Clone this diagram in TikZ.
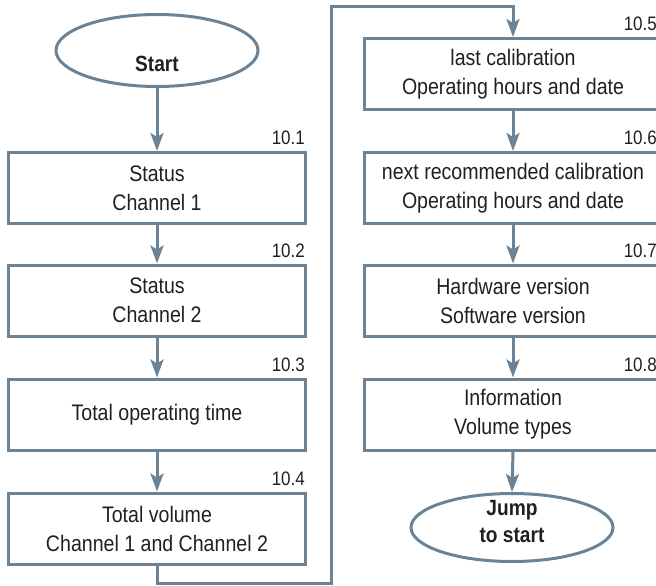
\documentclass[tikz,border=0pt]{standalone}
\usepackage{fontspec}
\setmainfont{Liberation Sans}[FakeStretch=0.87]
\usetikzlibrary{shapes.geometric,arrows.meta,calc}
\definecolor{lc}{RGB}{108,131,150}
\definecolor{tc}{RGB}{35,31,32}
\tikzset{
  stepbox/.style={draw=lc, line width=3pt, minimum width=297pt, minimum height=71pt,
    inner sep=0pt, align=center, text=tc, font=\fontsize{22.5}{29}\selectfont},
  termnode/.style={draw=lc, line width=3pt, ellipse, minimum width=202pt, inner sep=0pt,
    align=center, text=tc, font=\bfseries\fontsize{22}{27}\selectfont},
  termtext/.style={text=tc, align=center, inner sep=0pt, font=\bfseries\fontsize{22}{27}\selectfont},
  numlbl/.style={text=tc, font=\fontsize{19.5}{22}\selectfont, inner sep=0pt, anchor=base east},
  conn/.style={draw=lc, line width=3pt, line join=miter,
    -{Stealth[length=18pt, width=13pt, inset=4pt]}},
}
\begin{document}
\begin{tikzpicture}[x=1pt, y=-1pt]
\useasboundingbox (0,0) rectangle (656,586);
% left column
\node[termnode, minimum height=72pt,
  label={[termtext, yshift=-13pt]center:Start}] (start) at (157,50.5) {};
\node[stepbox] (b1) at (157,188) {Status\\Channel 1};
\node[stepbox] (b2) at (157,300.5) {Status\\Channel 2};
\node[stepbox] (b3) at (157,414.5) {Total operating time};
\node[stepbox] (b4) at (157,528.5) {Total volume\\Channel 1 and Channel 2};
% right column
\node[stepbox] (b5) at (513,74) {last calibration\\Operating hours and date};
\node[stepbox] (b6) at (513,188) {next recommended calibration\\Operating hours and date};
\node[stepbox] (b7) at (513,300.5) {Hardware version\\Software version};
\node[stepbox] (b8) at (513,414.5) {Information\\Volume types};
\node[termnode, minimum height=68pt,
  label={[termtext, yshift=6pt]center:Jump\\to start}] (jump) at (512,527.5) {};
% number labels
\node[numlbl] (l1) at ($(b1.north east)+(-2,-6.5)$) {10.1};
\node[numlbl] (l2) at ($(b2.north east)+(-2,-6.5)$) {10.2};
\node[numlbl] (l3) at ($(b3.north east)+(-2,-6.5)$) {10.3};
\node[numlbl] (l4) at ($(b4.north east)+(-2,-6.5)$) {10.4};
\node[numlbl] (l5) at ($(b5.north east)+(-6,-6.5)$) {10.5};
\node[numlbl] (l6) at ($(b6.north east)+(-6,-6.5)$) {10.6};
\node[numlbl] (l7) at ($(b7.north east)+(-6,-6.5)$) {10.7};
\node[numlbl] (l8) at ($(b8.north east)+(-6,-6.5)$) {10.8};
% connectors
\draw[conn] (start.south) -- (b1.north);
\draw[conn] (b1.south) -- (b2.north);
\draw[conn] (b2.south) -- (b3.north);
\draw[conn] (b3.south) -- (b4.north);
\coordinate (lb) at (331,583.5);
\coordinate (lt) at (331,6.5);
\draw[conn] (b4.south) |- (lb) -- (lt) -| (b5.north);
\draw[conn] (b5.south) -- (b6.north);
\draw[conn] (b6.south) -- (b7.north);
\draw[conn] (b7.south) -- (b8.north);
\draw[conn] (b8.south) -- (jump.north);
\end{tikzpicture}
\end{document}
